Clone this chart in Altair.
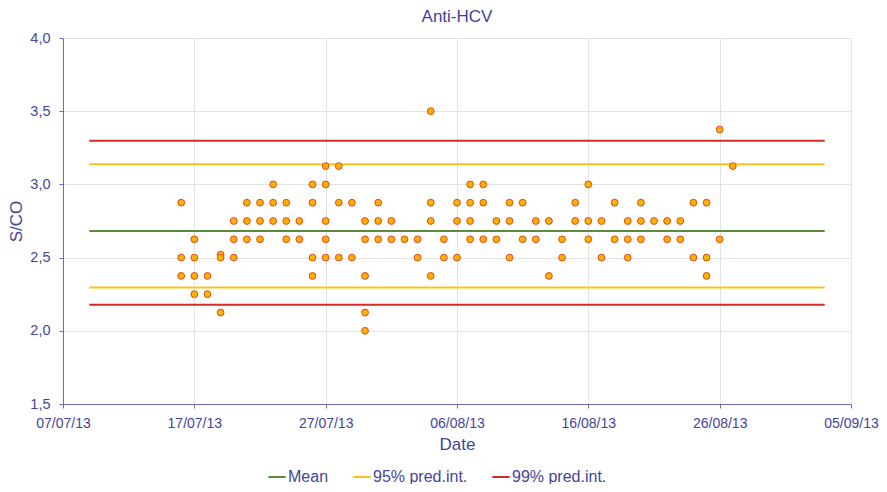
import altair as alt
import pandas as pd

# ---- data ----
days = [
    "2013-07-16", "2013-07-17", "2013-07-18", "2013-07-19", "2013-07-20",
    "2013-07-21", "2013-07-22", "2013-07-23", "2013-07-24", "2013-07-25",
    "2013-07-26", "2013-07-27", "2013-07-28", "2013-07-29", "2013-07-30",
    "2013-07-31", "2013-08-01", "2013-08-02", "2013-08-03", "2013-08-04",
    "2013-08-05", "2013-08-06", "2013-08-07", "2013-08-08", "2013-08-09",
    "2013-08-10", "2013-08-11", "2013-08-12", "2013-08-13", "2013-08-14",
    "2013-08-15", "2013-08-16", "2013-08-17", "2013-08-18", "2013-08-19",
    "2013-08-20", "2013-08-21", "2013-08-22", "2013-08-23", "2013-08-24",
    "2013-08-25", "2013-08-26", "2013-08-27",
]
values_per_day = [
    [2.875, 2.5, 2.375],
    [2.625, 2.5, 2.375, 2.25],
    [2.375, 2.25],
    [2.52, 2.5, 2.125],
    [2.75, 2.625, 2.5],
    [2.875, 2.75, 2.625],
    [2.875, 2.75, 2.625],
    [3.0, 2.875, 2.75],
    [2.875, 2.75, 2.625],
    [2.75, 2.625],
    [3.0, 2.875, 2.5, 2.375],
    [3.125, 3.0, 2.75, 2.625, 2.5],
    [3.125, 2.875, 2.5],
    [2.875, 2.5],
    [2.75, 2.625, 2.375, 2.125, 2.0],
    [2.875, 2.75, 2.625],
    [2.75, 2.625],
    [2.625],
    [2.625, 2.5],
    [3.5, 2.875, 2.75, 2.375],
    [2.625, 2.5],
    [2.875, 2.75, 2.5],
    [3.0, 2.875, 2.75, 2.625],
    [3.0, 2.875, 2.625],
    [2.75, 2.625],
    [2.875, 2.75, 2.5],
    [2.875, 2.625],
    [2.75, 2.625],
    [2.75, 2.375],
    [2.625, 2.5],
    [2.875, 2.75],
    [3.0, 2.75, 2.625],
    [2.75, 2.5],
    [2.875, 2.625],
    [2.75, 2.625, 2.5],
    [2.875, 2.75, 2.625],
    [2.75],
    [2.75, 2.625],
    [2.75, 2.625],
    [2.875, 2.5],
    [2.875, 2.5, 2.375],
    [3.375, 2.625],
    [3.125],
]

line_series = ["Mean", "95% pred.int.", "95% pred.int.", "99% pred.int.", "99% pred.int."]
line_ids = ["mean", "p95lo", "p95hi", "p99lo", "p99hi"]
line_levels = [2.682, 2.295, 3.137, 2.178, 3.298]
line_start = "2013-07-09"
line_end = "2013-09-03"

series_order = ["Mean", "95% pred.int.", "99% pred.int."]
series_colors = ["#5b8c3a", "#FFC21A", "#D42A2A"]

x_ticks = ["2013-07-07", "2013-07-17", "2013-07-27", "2013-08-06",
           "2013-08-16", "2013-08-26", "2013-09-05"]
y_ticks = [1.5, 2.0, 2.5, 3.0, 3.5, 4.0]

# ---- tables ----
pts = pd.DataFrame(
    [{"date": d, "value": v} for d, vals in zip(days, values_per_day) for v in vals]
)
lines = pd.DataFrame({
    "series": line_series, "id": line_ids, "level": line_levels,
    "start": [line_start] * len(line_ids), "end": [line_end] * len(line_ids),
})

def dt(s):
    y, m, d = map(int, s.split("-"))
    return alt.DateTime(year=y, month=m, date=d, utc=True)

txt = "#44449c"
font = "Liberation Sans"

xscale = alt.Scale(type="utc", domain=[dt(x_ticks[0]), dt(x_ticks[-1])])
yscale = alt.Scale(domain=[1.5, 4.0], nice=False, zero=False)

xaxis = alt.Axis(
    values=[dt(s) for s in x_ticks],
    labelExpr="utcFormat(datum.value, '%d/%m/%y')",
    title="Date", grid=True, gridColor="#e3e3e3",
    domainColor="#6b6bc0", tickColor="#6b6bc0", tickSize=4,
    labelColor=txt, labelFont=font, labelFontSize=14, labelPadding=8,
    titleColor=txt, titleFont=font, titleFontSize=17, titleFontWeight="normal",
    titlePadding=6, labelFlush=False,
)
yaxis = alt.Axis(
    values=y_ticks,
    labelExpr="replace(format(datum.value, '.1f'), '.', ',')",
    title="S/CO", grid=True, gridColor="#e3e3e3",
    domainColor="#6b6bc0", tickColor="#6b6bc0", tickSize=4,
    labelColor=txt, labelFont=font, labelFontSize=14.5, labelPadding=9,
    titleColor=txt, titleFont=font, titleFontSize=17, titleFontWeight="normal",
    titlePadding=4,
)

rules = alt.Chart(lines).mark_rule(strokeWidth=2).encode(
    x=alt.X("start:T", scale=xscale, axis=xaxis),
    x2="end:T",
    y=alt.Y("level:Q", scale=yscale, axis=yaxis),
    detail="id:N",
    color=alt.Color(
        "series:N",
        scale=alt.Scale(domain=series_order, range=series_colors),
        legend=alt.Legend(
            title=None, orient="none", direction="horizontal", columns=3,
            legendX=204, legendY=429,
            symbolType="stroke", symbolSize=300, symbolStrokeWidth=2,
            labelFont=font, labelFontSize=16, labelColor=txt,
            labelOffset=1, columnPadding=20,
        ),
    ),
)

points = alt.Chart(pts).mark_point(
    filled=True, shape="circle", size=46, fill="#FFB300",
    stroke="#DC4A1C", strokeWidth=1, opacity=1,
).encode(
    x=alt.X("date:T", scale=xscale),
    y=alt.Y("value:Q", scale=yscale),
)

chart = alt.layer(rules, points).properties(
    width=788, height=366,
    title=alt.Title("Anti-HCV", font=font, fontSize=17, fontWeight="normal",
                    color=txt, offset=4, anchor="middle"),
    autosize=alt.AutoSizeParams(type="none"),
    padding={"left": 55, "top": 30, "right": 28, "bottom": 80},
).configure_view(
    stroke="#a8a8dc", strokeWidth=1,
).configure(background="white")

chart.save("out.html", embed_options={"renderer": "svg", "actions": False})
